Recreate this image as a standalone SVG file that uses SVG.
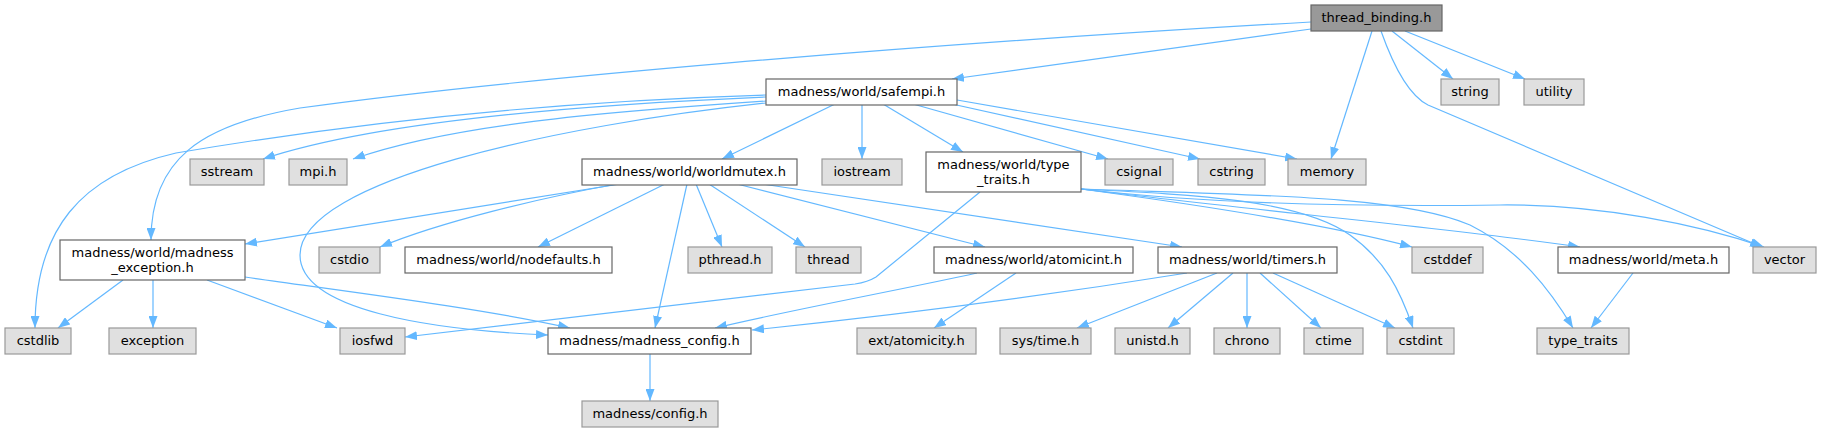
<svg xmlns="http://www.w3.org/2000/svg" width="1821" height="432" viewBox="0 0 1821 432">
<style>
  text { font-family: "DejaVu Sans", "Liberation Sans", sans-serif; font-size: 13px; text-anchor: middle; fill: #000; }
  .doc rect { fill: #ffffff; stroke: #666666; stroke-width: 1.2; }
  .ext rect { fill: #e0e0e0; stroke: #999999; stroke-width: 1.2; }
  .root rect { fill: #999999; stroke: #666666; stroke-width: 1.2; }
  .edges path { fill: none; stroke: #63b8ff; stroke-width: 1.2; marker-end: url(#arr); }
</style>
<defs>
  <marker id="arr" viewBox="0 0 12 9" refX="12" refY="4.5" markerWidth="12" markerHeight="9" markerUnits="userSpaceOnUse" orient="auto">
    <path d="M0,0 L12,4.5 L0,9 z" fill="#63b8ff" stroke="none"/>
  </marker>
</defs>
<rect width="1821" height="432" fill="#ffffff"/>

<g class="edges" id="connectors">
  <path d="M1311,22 C900,45 500,80 300,108 C200,125 151,160 151,240"/>
  <path d="M1311,29 L952,79"/>
  <path d="M1372,31 L1331,159"/>
  <path d="M1392,31 L1453,79"/>
  <path d="M1405,31 L1525,79"/>
  <path d="M1381,31 C1392,62 1408,95 1428,105 L1762,247"/>
  <path d="M835,104 L722,159"/>
  <path d="M862,104 L862,159"/>
  <path d="M883,104 L963,152"/>
  <path d="M913,104 L1108,159"/>
  <path d="M952,104 L1200,159"/>
  <path d="M957,100 L1297,159"/>
  <path d="M766,97 C600,104 380,120 263,159"/>
  <path d="M766,101 C600,112 450,125 353,159"/>
  <path d="M766,95 C600,100 400,115 176,153 C80,175 35,230 35,328"/>
  <path d="M766,103 C560,125 300,180 300,255 C300,310 430,330 548,335"/>
  <path d="M620,184 L245,244"/>
  <path d="M617,184 C540,198 440,222 380,247"/>
  <path d="M665,184 L538,247"/>
  <path d="M687,184 L655,328"/>
  <path d="M696,184 L722,247"/>
  <path d="M709,184 L805,247"/>
  <path d="M737,184 L985,247"/>
  <path d="M762,184 L1182,247"/>
  <path d="M980,192 L876,277 Q868,282 855,284 L405,337"/>
  <path d="M1081,189 C1200,195 1300,200 1350,235 C1385,260 1400,290 1413,328"/>
  <path d="M1081,189 C1200,205 1330,225 1412,247"/>
  <path d="M1081,189 C1250,210 1450,228 1580,247"/>
  <path d="M1081,189 C1200,203 1350,207 1500,205 C1600,204 1700,225 1764,247"/>
  <path d="M1081,189 C1250,195 1400,195 1470,225 C1520,250 1550,290 1573,328"/>
  <path d="M123,280 L58,328"/>
  <path d="M153,280 L153,328"/>
  <path d="M207,280 L337,328"/>
  <path d="M245,277 C350,292 480,308 570,328"/>
  <path d="M977,273 C900,290 800,308 715,328"/>
  <path d="M1016,273 L934,328"/>
  <path d="M1187,273 C1050,295 900,315 752,330"/>
  <path d="M1217,273 L1077,328"/>
  <path d="M1233,273 L1168,328"/>
  <path d="M1247,273 L1247,328"/>
  <path d="M1260,273 L1321,328"/>
  <path d="M1273,273 L1395,328"/>
  <path d="M1633,273 L1591,328"/>
  <path d="M650,353 L650,401"/>
</g>

<g id="thread_binding_h" class="root"><rect x="1311" y="5" width="131" height="26"/><text x="1376.5" y="22">thread_binding.h</text></g>
<g id="string" class="ext"><rect x="1441" y="79" width="58" height="26"/><text x="1470" y="96">string</text></g>
<g id="utility" class="ext"><rect x="1524" y="79" width="60" height="26"/><text x="1554" y="96">utility</text></g>
<g id="safempi_h" class="doc"><rect x="766" y="79" width="191" height="26"/><text x="861.5" y="96">madness/world/safempi.h</text></g>

<g id="sstream" class="ext"><rect x="190" y="159" width="74" height="26"/><text x="227" y="176">sstream</text></g>
<g id="mpi_h" class="ext"><rect x="289" y="159" width="58" height="26"/><text x="318" y="176">mpi.h</text></g>
<g id="worldmutex_h" class="doc"><rect x="582" y="159" width="215" height="26"/><text x="689.5" y="176">madness/world/worldmutex.h</text></g>
<g id="iostream" class="ext"><rect x="822" y="159" width="80" height="26"/><text x="862" y="176">iostream</text></g>
<g id="type_traits_h" class="doc"><rect x="926" y="152" width="155" height="40"/><text x="1003.5" y="169">madness/world/type</text><text x="1003.5" y="183.5">_traits.h</text></g>
<g id="csignal" class="ext"><rect x="1105" y="159" width="68" height="26"/><text x="1139" y="176">csignal</text></g>
<g id="cstring" class="ext"><rect x="1198" y="159" width="67" height="26"/><text x="1231.5" y="176">cstring</text></g>
<g id="memory" class="ext"><rect x="1288" y="159" width="78" height="26"/><text x="1327" y="176">memory</text></g>

<g id="madness_exception_h" class="doc"><rect x="60" y="240" width="185" height="40"/><text x="152.5" y="257">madness/world/madness</text><text x="152.5" y="271.5">_exception.h</text></g>
<g id="cstdio" class="ext"><rect x="319" y="247" width="61" height="26"/><text x="349.5" y="264">cstdio</text></g>
<g id="nodefaults_h" class="doc"><rect x="405" y="247" width="207" height="26"/><text x="508.5" y="264">madness/world/nodefaults.h</text></g>
<g id="pthread_h" class="ext"><rect x="688" y="247" width="84" height="26"/><text x="730" y="264">pthread.h</text></g>
<g id="thread" class="ext"><rect x="796" y="247" width="65" height="26"/><text x="828.5" y="264">thread</text></g>
<g id="atomicint_h" class="doc"><rect x="934" y="247" width="199" height="26"/><text x="1033.5" y="264">madness/world/atomicint.h</text></g>
<g id="timers_h" class="doc"><rect x="1158" y="247" width="179" height="26"/><text x="1247.5" y="264">madness/world/timers.h</text></g>
<g id="cstddef" class="ext"><rect x="1412" y="247" width="71" height="26"/><text x="1447.5" y="264">cstddef</text></g>
<g id="meta_h" class="doc"><rect x="1558" y="247" width="171" height="26"/><text x="1643.5" y="264">madness/world/meta.h</text></g>
<g id="vector" class="ext"><rect x="1753" y="247" width="63" height="26"/><text x="1784.5" y="264">vector</text></g>

<g id="cstdlib" class="ext"><rect x="5" y="328" width="66" height="26"/><text x="38" y="345">cstdlib</text></g>
<g id="exception" class="ext"><rect x="109" y="328" width="87" height="26"/><text x="152.5" y="345">exception</text></g>
<g id="iosfwd" class="ext"><rect x="340" y="328" width="65" height="26"/><text x="372.5" y="345">iosfwd</text></g>
<g id="madness_config_h" class="doc"><rect x="548" y="328" width="203" height="26"/><text x="649.5" y="345">madness/madness_config.h</text></g>
<g id="ext_atomicity_h" class="ext"><rect x="857" y="328" width="119" height="26"/><text x="916.5" y="345">ext/atomicity.h</text></g>
<g id="sys_time_h" class="ext"><rect x="1000" y="328" width="91" height="26"/><text x="1045.5" y="345">sys/time.h</text></g>
<g id="unistd_h" class="ext"><rect x="1115" y="328" width="75" height="26"/><text x="1152.5" y="345">unistd.h</text></g>
<g id="chrono" class="ext"><rect x="1214" y="328" width="66" height="26"/><text x="1247" y="345">chrono</text></g>
<g id="ctime" class="ext"><rect x="1304" y="328" width="59" height="26"/><text x="1333.5" y="345">ctime</text></g>
<g id="cstdint" class="ext"><rect x="1387" y="328" width="67" height="26"/><text x="1420.5" y="345">cstdint</text></g>
<g id="type_traits" class="ext"><rect x="1537" y="328" width="92" height="26"/><text x="1583" y="345">type_traits</text></g>

<g id="config_h" class="ext"><rect x="582" y="401" width="136" height="26"/><text x="650" y="418">madness/config.h</text></g>
</svg>
